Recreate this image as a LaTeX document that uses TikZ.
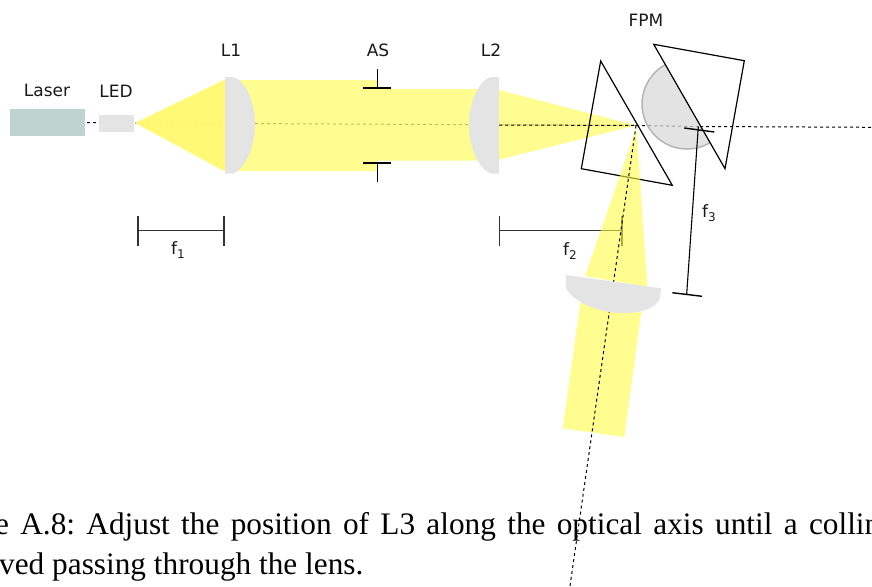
\documentclass[tikz,border=0pt]{standalone}
\usepackage{fontspec}
\setmainfont{Liberation Serif}
\newfontfamily\labelfont{DejaVu Sans}
\newcommand{\fsub}[1]{f\raisebox{-4pt}{\fontsize{12}{12}\selectfont #1}}
\definecolor{beamcol}{rgb}{1,.985,.267}
\definecolor{conecol}{HTML}{FFF96F}
\definecolor{lenscol}{HTML}{E4E4E4}
\definecolor{lasercol}{HTML}{BFD3D1}
\definecolor{fpmfill}{HTML}{D9D9D9}
\definecolor{fpmline}{HTML}{B5B5B5}
\definecolor{dimline}{HTML}{333333}
\begin{document}
\begin{tikzpicture}[x=1pt,y=-1pt]
  \tikzstyle{lab}=[font=\labelfont\fontsize{17}{20}\selectfont,text=black!90,inner sep=0pt]
  \tikzstyle{capt}=[font=\fontsize{31.3}{34}\selectfont,text=black,inner sep=0pt,anchor=base west]
  \tikzstyle{src}=[rectangle,inner sep=0pt,anchor=north west]
  \tikzstyle{beam}=[fill=beamcol,opacity=.6]
  \tikzstyle{lens}=[fill=lenscol]
  \tikzstyle{axisline}=[black,line width=1pt,dash pattern=on 3pt off 3pt]
  \tikzstyle{stop}=[black,line width=1.4pt]
  \tikzstyle{dim}=[dimline,line width=1.1pt]
  \tikzstyle{prism}=[black,line width=1.2pt,line join=miter]
  \clip (0,0) rectangle (872,586);
  \node[src,fill=lasercol,minimum width=75pt,minimum height=27pt] (laser) at (10,109) {};
  \node[src,fill=lenscol,minimum width=35pt,minimum height=17pt] (led) at (99,115) {};
  \coordinate (ledtip) at (135,123);
  \coordinate (focus) at (636,125.5);
  \coordinate (exit) at (570,586);
  % axis under everything
  \draw[axisline] (87,122.5) -- (laser.east -| led.west);
  \draw[axisline,black!60] (ledtip) -- (focus);
  \draw[axisline] (focus) -- (700,126.5);
  % field stop
  \begin{scope}
    \clip (653.7,44.3) -- (725,168.7) -- (640,200) -- (600,60) -- cycle;
    \draw[fpmline,fill=fpmfill,line width=1.5pt,fill opacity=.75] (687,104) circle[radius=45];
  \end{scope}
  % beams
  \fill[conecol,opacity=.95] (ledtip) -- (226,79) -- (226,172) -- cycle;
  \fill[beam] (226,80) -- (377,80) -- (377,89) -- (478,89) -- (478,160.5) -- (377,160.5) -- (377,171) -- (226,171) -- cycle;
  \fill[beam] (499,90) -- (focus) -- (499,159.5) -- cycle;
  \draw[axisline] (499,125) -- (focus);
  \draw[axisline] (700,126.5) -- (872,127.3);
  % lenses L1 and L2
  \fill[lens] (225,77) -- (233,77) .. controls (247,81) and (255,105) .. (255,124) .. controls (255,143) and (247,168) .. (233,173.5) -- (225,173.5) -- cycle;
  \fill[lens] (499,77) -- (491,77) .. controls (477,81) and (469,105) .. (469,125) .. controls (469,145) and (477,168) .. (491,173.5) -- (499,173.5) -- cycle;
  % aperture
  \coordinate (astop) at (377.7,88);
  \coordinate (asbot) at (377.7,163);
  \draw[stop] (363,88) -- (391,88);
  \draw[stop] (astop) -- (377.7,69);
  \draw[stop] (363,163) -- (391,163);
  \draw[stop] (asbot) -- (377.7,182);
  % focal lengths
  \draw[dim] (138,216) -- (138,246);
  \draw[dim] (224,216) -- (224,246);
  \draw[dim] (138,230.5) -- (224,230.5);
  \draw[dim] (499.7,216) -- (499.7,246);
  \draw[dim] (622,216) -- (622,246);
  \draw[dim] (499.7,230.5) -- (622,230.5);
  \draw[prism] (600.7,61) -- (581.3,168.7) -- (672.3,185.3) -- cycle;
  \draw[prism] (653.7,44.3) -- (744.3,60.7) -- (725,168.7) -- cycle;
  % third beam
  \fill[beam] (636.5,128) -- (585,276) -- (647.3,286.7) -- cycle;
  \fill[beam] (581.5,295) -- (562.7,428.3) -- (624.3,437) -- (643.5,295) -- cycle;
  \node[capt] (cap1) at (-5,534) {\makebox[885pt][s]{e A.8:\ Adjust the position of L3 along the optical axis until a collin}};
  \node[capt] (cap2) at (-1,574) {ved passing through the lens.};
  \draw[axisline] (focus) -- (exit);
  \fill[lens] (566,275) -- (661,288.3) -- (660,298) .. controls (657,308) and (640,314) .. (620,313) .. controls (595,312) and (570,300) .. (565.7,286.7) -- cycle;
  % f3
  \draw[dim,black] (698.3,126.7) -- (686.7,294);
  \draw[stop] (684.3,128) -- (714.3,132);
  \draw[stop] (672.3,292.7) -- (702,296.3);
  % labels
  \node[lab] (laserlab) at (47,90) {Laser};
  \node[lab] (ledlab) at (116,91) {LED};
  \node[lab] (l1lab) at (231,50) {L1};
  \node[lab] (aslab) at (378,50) {AS};
  \node[lab] (l2lab) at (491,50) {L2};
  \node[lab] (fpmlab) at (646,20) {FPM};
  \node[lab] (f1lab) at (178,250) {\fsub{1}};
  \node[lab] (f2lab) at (570,251) {\fsub{2}};
  \node[lab] (f3lab) at (709,213) {\fsub{3}};
\end{tikzpicture}
\end{document}
